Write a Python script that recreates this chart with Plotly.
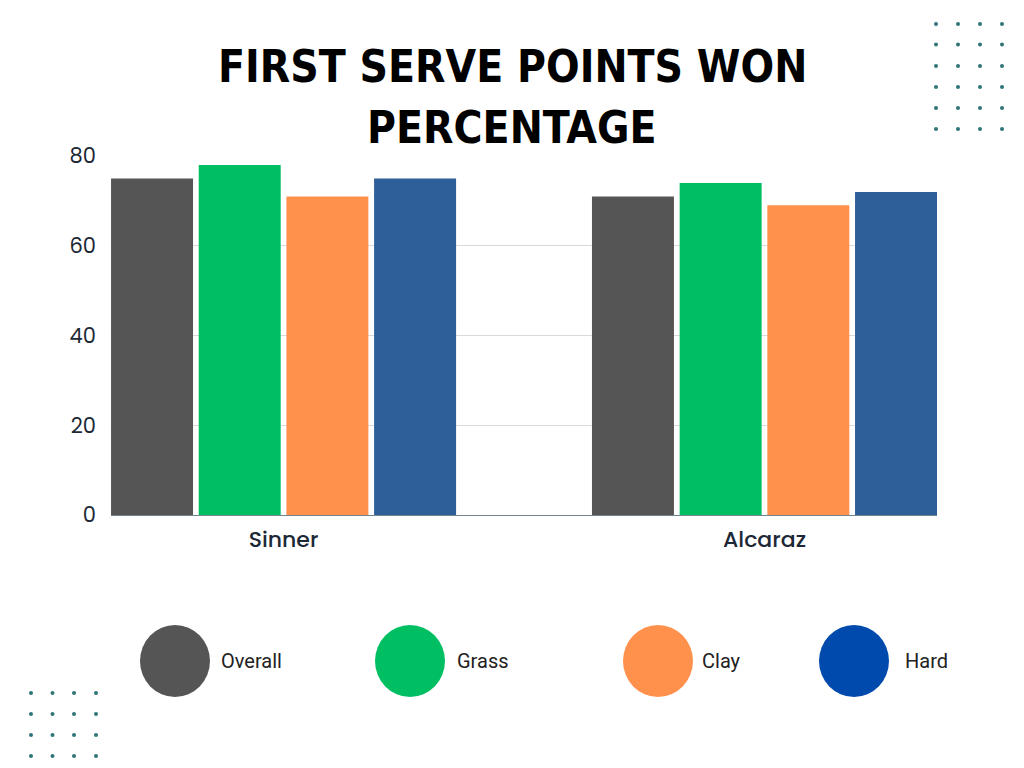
import plotly.graph_objects as go

players = ["Sinner", "Alcaraz"]
surfaces = ["Overall", "Grass", "Clay", "Hard"]
overall = [75, 71]
grass = [78, 74]
clay = [71, 69]
hard = [75, 72]
y_ticks = [0, 20, 40, 60, 80]

bar_colors = ["#555555", "#00bf63", "#ff914d", "#2e5f98"]
legend_colors = ["#555555", "#00bf63", "#ff914d", "#004aad"]
series = [overall, grass, clay, hard]

W, H = 1024, 768

fig = go.Figure()
for name, vals, col in zip(surfaces, series, bar_colors):
    fig.add_trace(go.Bar(x=players, y=vals, name=name, marker=dict(color=col, line=dict(width=0)),
                         showlegend=False, hoverinfo="x+y+name"))

tick_font = dict(family="Poppins, Open Sans, sans-serif", size=21, color="#1c2836")

fig.update_layout(
    template="none",
    width=W, height=H,
    margin=dict(l=0, r=0, t=0, b=0, pad=0, autoexpand=False),
    paper_bgcolor="white", plot_bgcolor="white",
    showlegend=False,
    barmode="group", bargap=0.2707, bargroupgap=0.065,
    xaxis=dict(domain=[111 / W, 937 / W], range=[-0.3588, 1.3587], type="category",
               automargin=False, showgrid=False, showline=True, linecolor="#6f8590", linewidth=1,
               ticks="", tickfont=dict(family="Poppins, Open Sans, sans-serif", size=22,
                                       color="#1c2836", weight=500),
               ticklabelstandoff=5),
    yaxis=dict(domain=[(H - 515) / H, (H - 156) / H], range=[0, 80], tickvals=y_ticks,
               automargin=False, showgrid=True, gridcolor="#d9d9d9", gridwidth=1, zeroline=False,
               showline=False, ticks="", tickfont=tick_font, ticklabelstandoff=14),
)

# Title
title_font = dict(family="Liberation Sans Narrow, DejaVu Sans Condensed, Arial Narrow, sans-serif",
                  size=44, color="#000000", weight="bold")
for txt, yc in [("FIRST SERVE POINTS WON", 66), ("PERCENTAGE", 127)]:
    fig.add_annotation(text=f"<b>{txt}</b>", x=512 / W, y=1 - yc / H, xref="paper", yref="paper",
                       showarrow=False, xanchor="center", yanchor="middle", font=title_font)

# Custom legend
leg_cx = [175, 410, 658, 854]
leg_label_x = [219, 455, 700, 903]
leg_cy = 661
for name, col, cx, lx in zip(surfaces, legend_colors, leg_cx, leg_label_x):
    fig.add_shape(type="circle", xref="paper", yref="paper",
                  x0=(cx - 35) / W, x1=(cx + 35) / W, y0=1 - (leg_cy + 36) / H, y1=1 - (leg_cy - 36) / H,
                  fillcolor=col, line=dict(width=0))
    fig.add_annotation(text=name, x=lx / W, y=1 - leg_cy / H, xref="paper", yref="paper",
                       showarrow=False, xanchor="left", yanchor="middle",
                       font=dict(family="Roboto, sans-serif", size=20, color="#222222"))

# Decorative dots
dot_col = "#2f7577"
def dots(xs, ys):
    for xx in xs:
        for yy in ys:
            fig.add_shape(type="circle", xref="paper", yref="paper",
                          x0=(xx - 2) / W, x1=(xx + 2) / W, y0=1 - (yy + 2) / H, y1=1 - (yy - 2) / H,
                          fillcolor=dot_col, line=dict(width=0))

dots([936, 958, 980, 1002], [24, 44.5, 66, 87, 108, 129])
dots([31, 52.5, 74, 96], [693, 714, 735, 756])

fig.write_html("out.html")
